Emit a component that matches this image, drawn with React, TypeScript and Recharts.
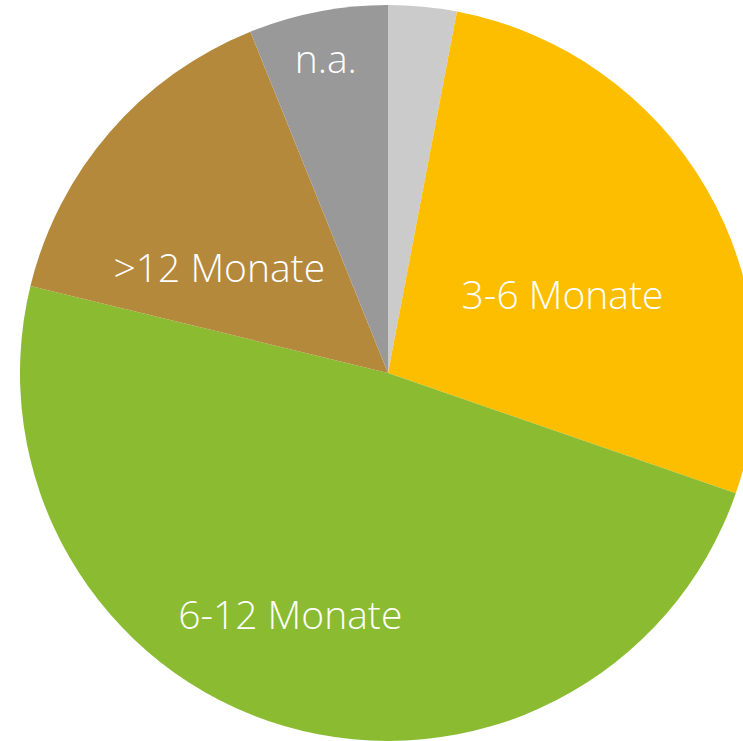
import React from 'react';
import { PieChart, Pie, Cell } from 'recharts';

const categories = ['', '3-6 Monate', '6-12 Monate', '>12 Monate', 'n.a.'];
const shares = [3, 27.3, 48.5, 15.1, 6.1];
const colors = ['#CBCBCB', '#FDBE00', '#8ABB31', '#B4893C', '#999999'];

// label placement: fraction of radius + clockwise angle shift from slice middle
const labelSpots = [
  { r: 0, shift: 0 },
  { r: 0.506, shift: 9.7 },
  { r: 0.742, shift: 4.6 },
  { r: 0.522, shift: -12.3 },
  { r: 0.835, shift: -0.7 },
];

const data = categories.map((name, i) => ({ name, value: shares[i] }));

const RAD = Math.PI / 180;

const renderLabel = (props: any) => {
  const { cx, cy, midAngle, outerRadius, index } = props;
  const name = categories[index];
  if (!name) return null;
  const spot = labelSpots[index];
  const angle = (midAngle - spot.shift) * RAD;
  const r = outerRadius * spot.r;
  const x = cx + r * Math.cos(angle);
  const y = cy - r * Math.sin(angle) + 1;
  return (
    <text
      x={x}
      y={y}
      fill="#ffffff"
      textAnchor="middle"
      fontSize={39}
      fontWeight={350}
      fontFamily="'Open Sans', sans-serif"
    >
      {name}
    </text>
  );
};

export default function App() {
  return (
    <div style={{ position: 'absolute', left: 0, top: 0, width: 743, height: 741, background: '#fff' }}>
      <PieChart width={743} height={741} margin={{ top: 0, right: 0, bottom: 0, left: 0 }}>
        <Pie
          data={data}
          dataKey="value"
          nameKey="name"
          cx={388}
          cy={373}
          outerRadius={368}
          startAngle={90}
          endAngle={-270}
          stroke="none"
          label={renderLabel}
          labelLine={false}
          isAnimationActive={false}
        >
          {data.map((entry, i) => (
            <Cell key={`cell-${i}`} fill={colors[i]} />
          ))}
        </Pie>
      </PieChart>
    </div>
  );
}
